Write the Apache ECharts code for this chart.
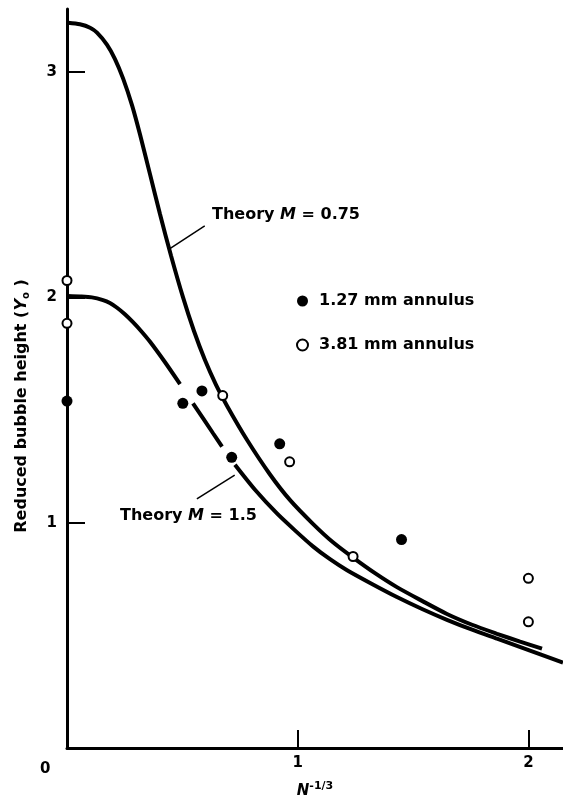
<!DOCTYPE html>
<html>
<head>
<meta charset="utf-8">
<script src="https://cdn.jsdelivr.net/npm/echarts@6/dist/echarts.min.js"></script>
<style>
    html, body {margin: 0; padding: 0; background: #fff;}
    #chart {width: 563px; height: 804px;}
</style>
</head>
<body>
<div id="chart"></div>
<script>
//理论曲线 M = 0.75
var upperCurve = [
    [0.004, 3.219], [0.056, 3.212], [0.100, 3.197], [0.130, 3.175], [0.173, 3.122],
    [0.208, 3.058], [0.243, 2.972], [0.282, 2.852], [0.316, 2.725], [0.360, 2.546],
    [0.403, 2.370], [0.451, 2.185], [0.503, 2.000], [0.550, 1.852], [0.598, 1.722],
    [0.646, 1.612], [0.694, 1.518], [0.780, 1.368], [0.880, 1.214], [0.967, 1.100],
    [1.066, 0.995], [1.153, 0.913], [1.240, 0.845], [1.335, 0.776], [1.430, 0.714],
    [1.539, 0.653], [1.647, 0.595], [1.756, 0.547], [1.864, 0.507], [1.964, 0.472],
    [2.059, 0.441]
];
//理论曲线 M = 1.5 （'-' 处断开）
var lowerCurve = [
    [0.004, 2.006], [0.056, 2.004], [0.108, 2.000], [0.156, 1.988], [0.186, 1.975],
    [0.217, 1.954], [0.251, 1.925], [0.286, 1.890], [0.321, 1.851], [0.360, 1.803],
    [0.425, 1.712], [0.490, 1.615], [0.52, '-'], [0.546, 1.530], [0.633, 1.397],
    [0.672, 1.338], [0.70, '-'], [0.728, 1.257], [0.815, 1.146], [0.910, 1.041],
    [0.988, 0.966], [1.066, 0.895], [1.140, 0.838], [1.214, 0.789], [1.322, 0.728],
    [1.430, 0.670], [1.539, 0.617], [1.647, 0.569], [1.756, 0.525], [1.864, 0.485],
    [2.007, 0.432], [2.150, 0.379]
];
//1.27 mm annulus
var filledPoints = [
    [0, 1.54], [0.502, 1.53], [0.585, 1.585], [0.714, 1.29], [0.922, 1.35], [1.45, 0.925]
];
//3.81 mm annulus
var hollowPoints = [
    [0, 2.075], [0, 1.885], [0.675, 1.564], [0.965, 1.27], [1.24, 0.85], [2.0, 0.753], [2.0, 0.56]
];
//引线
var leader075 = [[0.597, 2.317], [0.446, 2.216]];
var leader15 = [[0.727, 1.211], [0.563, 1.106]];

var xTicks = [1, 2];
var yTicks = [1, 2, 3];

var font = 'DejaVu Sans';
var ink = '#000';

var chart = echarts.init(document.getElementById('chart'));

//带斜体 M 的标注
function theoryLabel(text, left, top) {
    return {
        type: 'text', left: left, top: top,
        style: {
            text: '{a|Theory }{m|M}{a| = ' + text + '}',
            rich: {
                a: {fontFamily: font, fontWeight: 'bold', fontSize: 16, fill: ink},
                m: {fontFamily: font, fontStyle: 'italic', fontWeight: 'bold', fontSize: 16, fill: ink}
            }
        }
    };
}

var option = {
    animation: false,
    backgroundColor: '#fff',
    grid: {left: 67, top: 9, right: 0, bottom: 51},
    legend: {
        orient: 'vertical',
        left: 291,
        top: 288,
        itemWidth: 11,
        itemHeight: 11,
        itemGap: 28,
        data: ['1.27 mm annulus', '3.81 mm annulus'],
        textStyle: {fontFamily: font, fontWeight: 'bold', fontSize: 16, color: ink, lineHeight: 16, padding: [0, 0, 0, 6]}
    },
    xAxis: {
        type: 'value',
        min: 0,
        max: 2.15,
        interval: 1,
        splitLine: {show: false},
        axisLine: {lineStyle: {color: ink, width: 3}},
        axisTick: {inside: true, length: 18, lineStyle: {color: ink, width: 2}, customValues: xTicks},
        axisLabel: {customValues: xTicks, margin: 8, fontFamily: font, fontWeight: 'bold', fontSize: 15, color: ink},
        name: '{n|N}{s|-1/3}',
        nameLocation: 'middle',
        nameGap: 33,
        nameTextStyle: {
            rich: {
                n: {fontFamily: font, fontStyle: 'italic', fontWeight: 'bold', fontSize: 15, color: ink},
                s: {fontFamily: font, fontWeight: 'bold', fontSize: 11, color: ink, verticalAlign: 'bottom', padding: [0, 0, 10, 0]}
            }
        }
    },
    yAxis: {
        type: 'value',
        min: 0,
        max: 3.28,
        interval: 1,
        splitLine: {show: false},
        axisLine: {lineStyle: {color: ink, width: 3}},
        axisTick: {inside: true, length: 18, lineStyle: {color: ink, width: 2}, customValues: yTicks},
        axisLabel: {customValues: yTicks, margin: 10, fontFamily: font, fontWeight: 'bold', fontSize: 15, color: ink}
    },
    graphic: [
        {type: 'text', left: 40, top: 762, style: {text: '0', font: 'bold 15px "DejaVu Sans"', fill: ink}},
        {
            type: 'text', x: 22, y: 406, rotation: Math.PI / 2,
            style: {
                text: '{t|Reduced bubble height (}{y|Y}{o|o}{t| )}',
                align: 'center',
                verticalAlign: 'middle',
                rich: {
                    t: {fontFamily: font, fontWeight: 'bold', fontSize: 16, fill: ink},
                    y: {fontFamily: font, fontStyle: 'italic', fontWeight: 'bold', fontSize: 16, fill: ink},
                    o: {fontFamily: font, fontWeight: 'bold', fontSize: 10, fill: ink, verticalAlign: 'top', padding: [9, 0, 0, 0]}
                }
            }
        },
        theoryLabel('0.75', 212, 207),
        theoryLabel('1.5', 120, 508)
    ],
    series: [
        {
            name: 'Theory M = 0.75',
            type: 'line',
            data: upperCurve,
            smooth: 0.25,
            showSymbol: false,
            lineStyle: {color: ink, width: 4},
            z: 2
        },
        {
            name: 'Theory M = 1.5',
            type: 'line',
            data: lowerCurve,
            smooth: 0.25,
            connectNulls: false,
            showSymbol: false,
            lineStyle: {color: ink, width: 4},
            z: 2
        },
        {
            name: 'leader1',
            type: 'line',
            data: leader075,
            showSymbol: false,
            lineStyle: {color: ink, width: 1.5}
        },
        {
            name: 'leader2',
            type: 'line',
            data: leader15,
            showSymbol: false,
            lineStyle: {color: ink, width: 1.5}
        },
        {
            name: '1.27 mm annulus',
            type: 'scatter',
            data: filledPoints,
            symbol: 'circle',
            symbolSize: 11,
            itemStyle: {color: ink, opacity: 1},
            z: 5
        },
        {
            name: '3.81 mm annulus',
            type: 'scatter',
            data: hollowPoints,
            symbol: 'circle',
            symbolSize: 9,
            itemStyle: {color: '#fff', borderColor: ink, borderWidth: 2, opacity: 1},
            z: 5
        }
    ]
};

chart.setOption(option);
</script>
</body>
</html>
